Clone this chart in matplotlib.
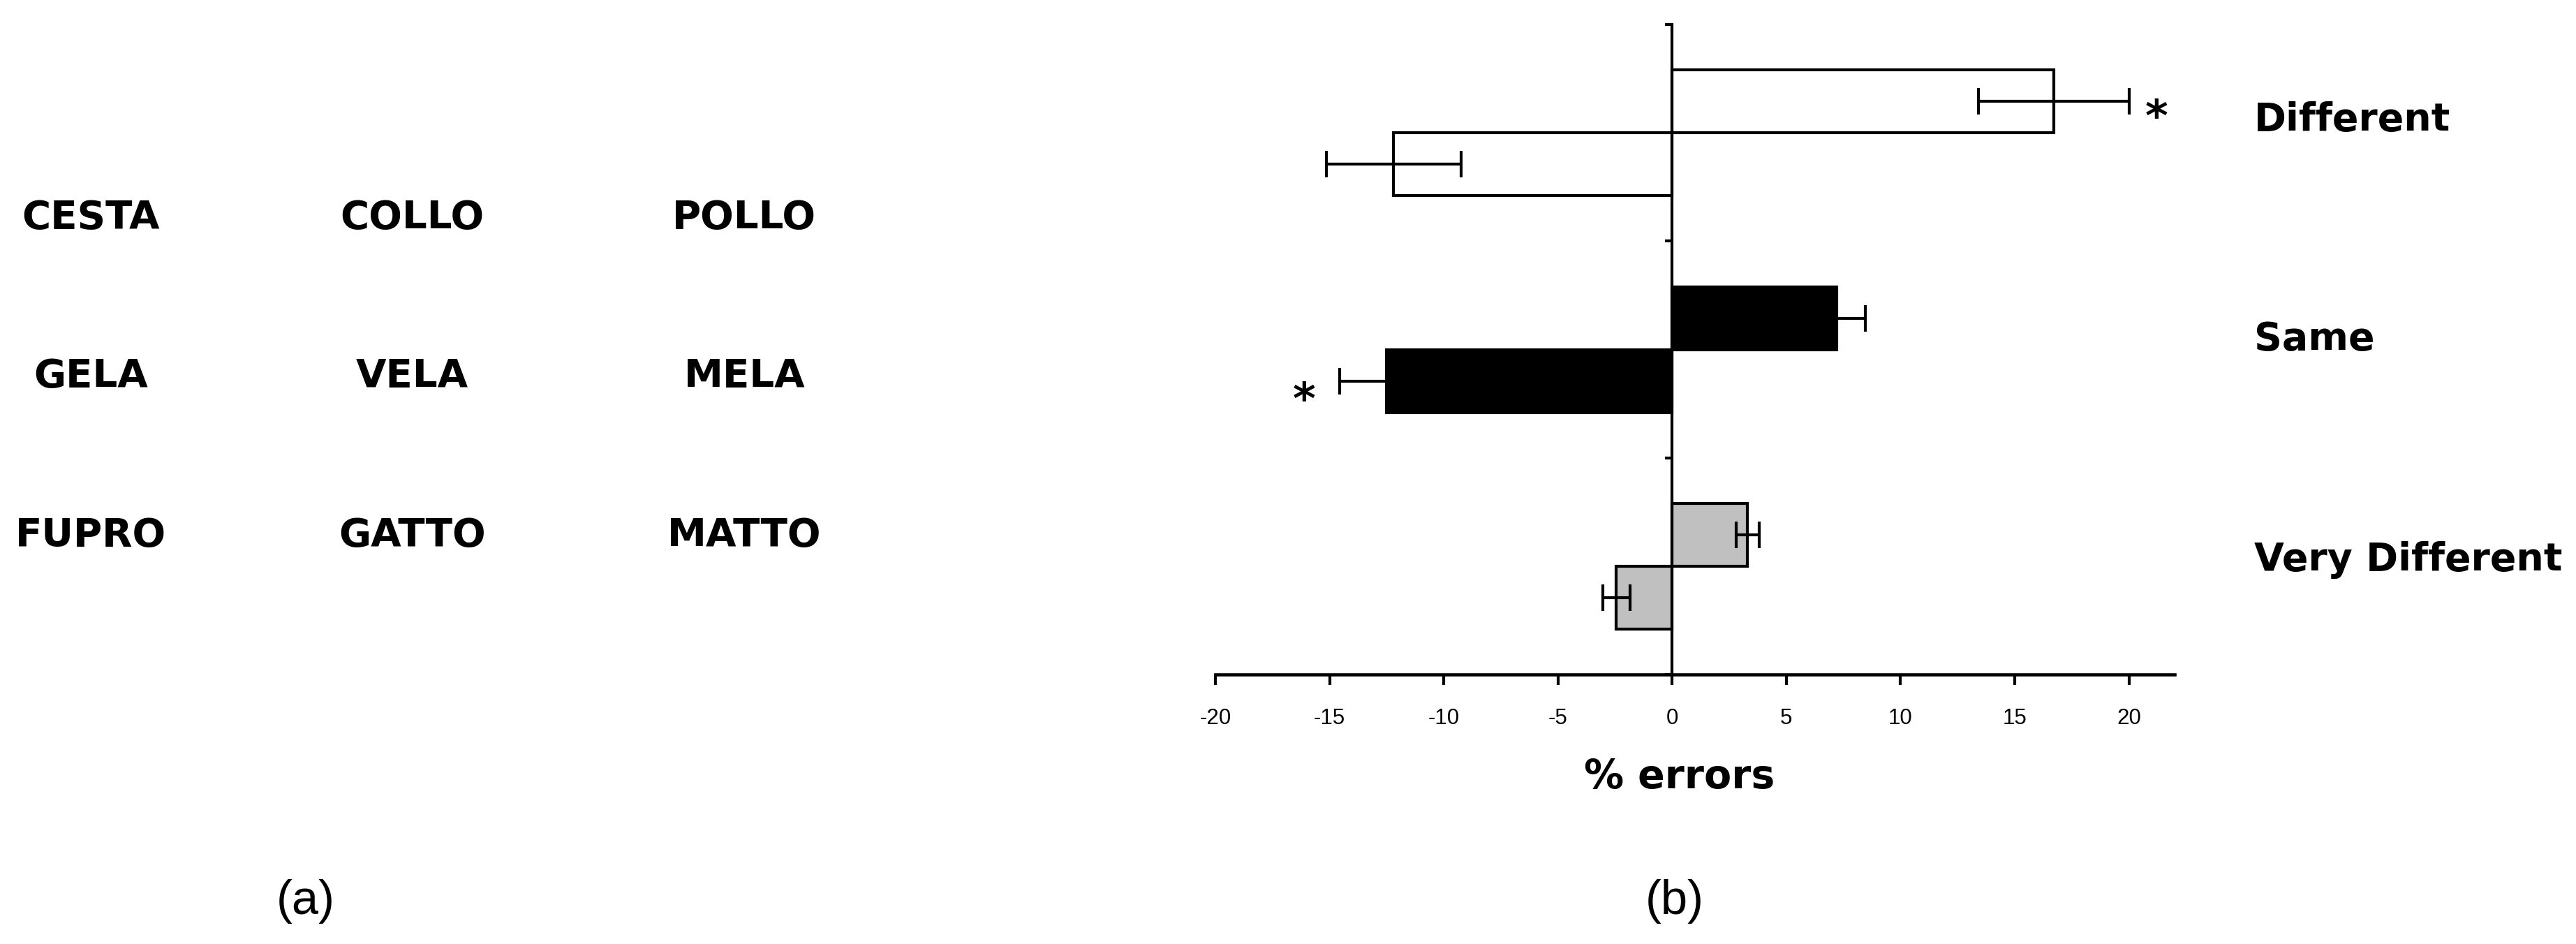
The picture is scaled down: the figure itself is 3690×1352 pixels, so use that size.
import matplotlib
matplotlib.use("Agg")
import matplotlib.pyplot as plt
import numpy as np

# --- data ---
conditions = ['Different', 'Same', 'Very Different']   # top to bottom
pos_vals = [16.7, 7.2, 3.3]
pos_err = [3.3, 1.25, 0.5]
neg_vals = [-12.2, -12.5, -2.45]
neg_err = [2.95, 2.05, 0.6]
fills = ['white', 'black', '#c0c0c0']
star_x = [21.2, -16.1]
star_y = [2.565, 1.26]

words = [['CESTA', 'COLLO', 'POLLO'],
         ['GELA', 'VELA', 'MELA'],
         ['FUPRO', 'GATTO', 'MATTO']]
xticks = [-20, -15, -10, -5, 0, 5, 10, 15, 20]

fig = plt.figure(figsize=(12.3, 4.5067), dpi=300)

# (a) word grid
word_x = [0.0352, 0.160, 0.289]
word_y = [0.7692, 0.6013, 0.4327]
for r, row in enumerate(words):
    for c, w in enumerate(row):
        fig.text(word_x[c], word_y[r], w, ha='center', va='center',
                 fontsize=13.5, fontweight='bold', family='DejaVu Sans')

# (b) bar chart
ax = fig.add_axes([0.4718, 0.2855, 0.3724, 0.6886])
centers = np.array([2.5, 1.5, 0.5])
h = 0.29
lw = 1.0
ax.barh(centers + h / 2, pos_vals, height=h, color=fills, edgecolor='black',
        linewidth=lw, zorder=2)
ax.barh(centers - h / 2, neg_vals, height=h, color=fills, edgecolor='black',
        linewidth=lw, zorder=2)
ax.errorbar(pos_vals, centers + h / 2, xerr=pos_err, fmt='none', ecolor='black',
            elinewidth=lw, capsize=4.5, capthick=lw, zorder=3)
ax.errorbar(neg_vals, centers - h / 2, xerr=neg_err, fmt='none', ecolor='black',
            elinewidth=lw, capsize=4.5, capthick=lw, zorder=3)
for sx, sy in zip(star_x, star_y):
    ax.text(sx, sy, '*', ha='center', va='center', fontsize=15,
            fontweight='bold', family='DejaVu Sans')

ax.set_xlim(-20, 22)
ax.set_ylim(0, 3)
ax.spines['left'].set_position(('data', 0))
ax.spines['top'].set_visible(False)
ax.spines['right'].set_visible(False)
ax.spines['left'].set_linewidth(lw)
ax.spines['bottom'].set_linewidth(1.1)
ax.set_yticks([0, 1, 2, 3])
ax.set_yticklabels([])
ax.tick_params(axis='y', direction='out', length=2.5, width=lw)
ax.set_xticks(xticks)
ax.set_xticklabels([str(t) for t in xticks], fontsize=7.5, family='Liberation Sans')
ax.tick_params(axis='x', direction='out', length=3.5, width=lw, pad=8)

label_y = [0.873, 0.6405, 0.407]
for name, ly in zip(conditions, label_y):
    fig.text(0.875, ly, name, ha='left', va='center', fontsize=13.3,
             fontweight='bold', family='DejaVu Sans')

fig.text(0.652, 0.1765, '% errors', ha='center', va='center', fontsize=13.7,
         fontweight='bold', family='DejaVu Sans')
fig.text(0.1187, 0.045, '(a)', ha='center', va='center', fontsize=16.5,
         family='Liberation Sans')
fig.text(0.650, 0.045, '(b)', ha='center', va='center', fontsize=16.5,
         family='Liberation Sans')

fig.savefig('out.png', dpi=300, facecolor='white')
